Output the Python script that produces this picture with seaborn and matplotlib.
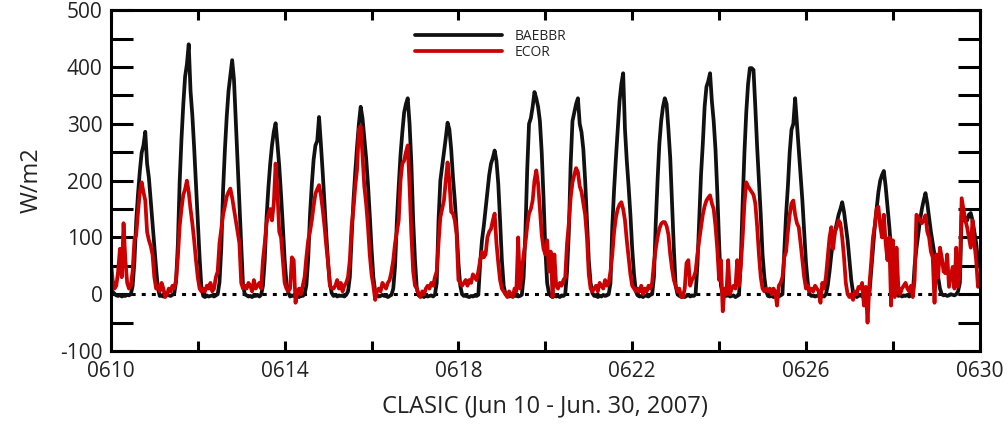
import numpy as np
import pandas as pd
import seaborn as sns
import matplotlib
matplotlib.use("Agg")
import matplotlib.pyplot as plt
from matplotlib.lines import Line2D
from matplotlib.ticker import MultipleLocator

# hourly sensible heat flux (W/m2), one row per day starting at 00 UTC, 0610 .. 0629, plus last point at 0630
baebbr = [
    8, 4, 1, -2, -3, -1, -4, -2, -3, -1, -2, 0, 14, 57, 129, 177, 217, 249, 262, 286, 230, 205, 165, 125,
    85, 45, 10, -3, -2, -4, -3, -1, -2, -3, -1, 1, 22, 88, 198, 273, 334, 383, 405, 440, 358, 315, 258, 195,
    130, 65, 12, -3, -5, -2, -4, -3, -2, -4, -2, 0, 21, 82, 185, 255, 313, 358, 385, 412, 378, 305, 232, 159,
    86, 15, 0, -2, -4, -3, -5, -2, -3, -1, -4, -1, 15, 60, 135, 187, 229, 262, 286, 301, 265, 226, 175, 120,
    60, 20, 3, -4, -2, -3, -1, -3, -5, -2, -3, 0, 16, 62, 140, 193, 237, 262, 270, 312, 265, 215, 160, 105,
    55, 18, 2, -3, -1, -4, -2, -3, -2, -4, -1, 5, 30, 100, 165, 215, 260, 300, 330, 310, 275, 240, 195, 140,
    80, 30, 5, -2, -4, -3, -1, -3, -2, -5, -3, -1, 10, 50, 130, 190, 245, 285, 320, 335, 345, 300, 230, 130,
    60, 10, -2, -4, -3, -5, -2, -4, -3, -2, -4, -1, 20, 130, 200, 225, 250, 275, 302, 290, 255, 205, 165, 115,
    55, 15, 0, -3, -2, -4, -5, -3, -4, -2, -3, -1, 55, 95, 120, 150, 180, 210, 230, 240, 253, 235, 195, 130,
    60, 15, 0, -2, -4, -3, -1, -3, -2, -4, -3, -1, 30, 110, 220, 300, 310, 330, 356, 345, 330, 305, 250, 170,
    80, 20, 2, -3, -5, -2, -4, -3, -5, -2, -3, 0, 40, 110, 230, 305, 320, 335, 345, 300, 285, 255, 200, 130,
    60, 20, 2, -3, -2, -5, -3, -4, -1, -3, -2, 0, 20, 120, 185, 240, 290, 340, 370, 389, 290, 235, 190, 140,
    80, 35, 5, -2, -4, -3, -5, -2, -3, -4, -1, 0, 30, 125, 200, 265, 305, 330, 345, 335, 290, 240, 160, 80,
    15, 0, -3, -4, -2, -5, -3, -1, -4, -2, -3, 0, 50, 130, 210, 265, 330, 365, 375, 389, 340, 305, 255, 180,
    90, 15, 0, -2, -3, -1, -4, -3, -2, -5, -3, -1, 60, 160, 250, 320, 370, 398, 398, 395, 330, 260, 200, 140,
    70, 30, 5, -3, -4, -2, -5, -3, -1, -4, -2, 0, 75, 140, 190, 250, 290, 300, 345, 300, 255, 210, 165, 110,
    55, 20, 0, -3, -2, -4, -3, -1, -3, -2, -4, 0, 15, 40, 70, 95, 110, 125, 140, 150, 162, 145, 120, 95,
    60, 25, 3, -2, -5, -3, -1, -4, -2, -3, -1, 0, 40, 80, 120, 150, 180, 200, 210, 217, 190, 155, 120, 80,
    45, 15, 0, -3, -1, -4, -2, -3, -1, -4, -2, 0, 50, 80, 105, 130, 150, 165, 178, 160, 135, 110, 90, 70,
    55, 30, 10, 0, -2, -1, -3, -2, 0, -1, -2, 0, 5, 20, 140, 130, 135, 130, 140, 143, 130, 110, 90, 60,
    48,
]

ecor = [
    58, 25, 10, 15, 40, 80, 30, 125, 60, 20, 10, 15, 40, 95, 105, 145, 180, 197, 180, 165, 110, 95, 85, 70,
    30, 10, 15, 5, 20, 10, -5, 0, 10, 5, 15, 10, 25, 65, 120, 150, 175, 185, 200, 180, 150, 125, 95, 60,
    30, 10, 5, 10, 5, 15, 10, 20, 5, 10, 30, 40, 90, 115, 140, 155, 172, 180, 186, 170, 150, 130, 110, 90,
    20, 10, 15, 10, 20, 15, 5, 25, 10, 15, 20, 10, 60, 90, 125, 140, 150, 130, 160, 230, 180, 110, 100, 60,
    20, 10, 5, 10, 65, 60, -15, 5, 10, 0, 15, 30, 65, 95, 110, 130, 155, 177, 185, 192, 175, 150, 120, 85,
    55, 15, 10, 10, 15, 25, 10, 20, 5, 15, 20, 30, 60, 120, 150, 190, 220, 290, 296, 245, 190, 160, 120, 70,
    35, 15, -10, 5, 10, 5, 20, 15, 10, 20, 25, 40, 60, 90, 110, 130, 200, 230, 235, 250, 262, 190, 105, 40,
    15, 10, 0, -5, 5, 0, 10, 15, 10, 20, 15, 30, 40, 90, 135, 150, 165, 200, 232, 200, 145, 142, 130, 105,
    25, 20, 15, 20, 25, 15, 25, 20, 35, 30, 25, 40, 60, 75, 65, 70, 100, 110, 115, 130, 142, 90, 55, 25,
    10, 5, 0, -5, 5, 0, -5, 10, 5, 100, 10, 40, 70, 90, 120, 142, 150, 165, 200, 218, 195, 150, 105, 80,
    70, 95, 40, 75, -5, 70, 15, 10, 20, 15, 25, 30, 90, 125, 170, 197, 210, 222, 215, 190, 180, 160, 140, 100,
    35, 10, 5, 10, 15, 5, 20, 15, 10, 25, 15, 20, 40, 70, 110, 135, 150, 158, 162, 150, 130, 95, 65, 35,
    15, 10, 5, 10, 5, 15, 0, 10, 5, 15, 10, 20, 55, 80, 100, 115, 124, 127, 127, 120, 105, 70, 45, 25,
    15, 5, 10, -5, -5, 10, 55, 60, 15, 25, 30, 40, 70, 95, 118, 140, 155, 165, 170, 174, 160, 150, 120, 80,
    25, 60, -30, 10, 0, 60, 0, 10, 15, 10, 60, 15, 50, 100, 160, 197, 190, 185, 180, 175, 160, 120, 70, 30,
    10, 5, 10, 5, 10, 0, 10, 5, -20, 15, 20, 30, 65, 75, 110, 140, 160, 165, 140, 125, 118, 90, 60, 30,
    10, 15, 5, 10, 5, 15, 10, 5, -15, 20, 10, 30, 65, 100, 118, 80, 110, 118, 130, 125, 100, 65, 20, 0,
    -5, 0, -10, 5, 0, 13, 10, 20, -20, 13, -50, 15, 55, 100, 120, 150, 154, 120, 100, 140, 90, 60, 100, -20,
    95, -5, 82, 13, 0, 10, 15, 20, 10, 5, 15, -5, 25, 140, 136, 130, 125, 130, 139, 110, 100, 75, 65, -15,
    70, 30, 82, 65, 40, 37, 70, 13, 30, 48, 10, 82, 13, 40, 169, 150, 130, 118, 100, 82, 130, 90, 60, 13,
    30,
]

series_names = ["BAEBBR", "ECOR"]
date_ticks = [0, 4, 8, 12, 16, 20]
date_labels = ["0610", "0614", "0618", "0622", "0626", "0630"]

colors = {"BAEBBR": "#111111", "ECOR": "#cc0000"}

n = len(baebbr)
day = np.arange(n) / 24.0
df = pd.DataFrame({
    "day": np.concatenate([day, day]),
    "flux": baebbr + ecor,
    "method": [series_names[0]] * n + [series_names[1]] * n,
})

sns.set_style("ticks")
plt.rcParams["font.family"] = ["Open Sans", "DejaVu Sans"]
plt.rcParams["axes.unicode_minus"] = False

fig = plt.figure(figsize=(10.08, 4.25), dpi=100)
ax = fig.add_axes([0.110, 0.174, 0.862, 0.802])

# zero reference line
ax.axhline(0, color="black", lw=2.2, ls=(0, (1.3, 2.0)), zorder=1)

sns.lineplot(data=df, x="day", y="flux", hue="method", palette=colors,
             estimator=None, sort=False, lw=2.7, legend=False, ax=ax, zorder=2)

ax.set_xlim(0, 20)
ax.set_ylim(-100, 500)
ax.set_xticks(date_ticks, date_labels)
ax.xaxis.set_minor_locator(MultipleLocator(2))
ax.yaxis.set_major_locator(MultipleLocator(100))
ax.yaxis.set_minor_locator(MultipleLocator(50))

ax.tick_params(which="both", direction="in", top=True, right=True, width=2.2, color="black")
ax.tick_params(axis="x", which="both", length=7, pad=7)
ax.tick_params(axis="y", which="both", length=16, pad=6)
ax.tick_params(labelsize=15, labelcolor="#222222")
for sp in ax.spines.values():
    sp.set_linewidth(2.2)
    sp.set_color("black")

ax.set_xlabel("CLASIC (Jun 10 - Jun. 30, 2007)", fontsize=17, labelpad=9, color="#222222")
ax.set_ylabel("W/m2", fontsize=17, labelpad=12, color="#222222")

handles = [Line2D([], [], color=colors[s], lw=2.7) for s in series_names]
ax.legend(handles, series_names, loc="upper left", bbox_to_anchor=(0.35, 0.945),
          frameon=False, fontsize=10, handlelength=6.3, handletextpad=0.9,
          labelspacing=0.05, borderpad=0, borderaxespad=0)

fig.savefig("out.png", dpi=100)
